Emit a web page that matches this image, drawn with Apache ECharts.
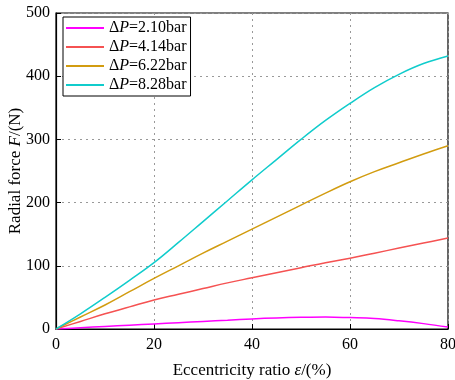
<!DOCTYPE html>
<html>
<head>
<meta charset="utf-8">
<script src="https://cdn.jsdelivr.net/npm/echarts@6/dist/echarts.min.js"></script>
<style>
  html, body { margin: 0; padding: 0; background: #fff; }
  #chart { width: 455px; height: 380px; }
</style>
</head>
<body>
<div id="chart"></div>
<script>
// Eccentricity ratio (%) sample points
const eccentricity = [0, 5, 10, 15, 20, 25, 30, 35, 40, 45, 50, 55, 60, 65, 70, 75, 80];

// Pressure drop of each curve (bar)
const pressures = ['2.10', '4.14', '6.22', '8.28'];

// Radial force (N) for each pressure drop
const force210 = [0, 2, 4, 6, 8, 10, 12, 14, 16, 17.5, 18.5, 19, 18, 16.5, 13, 8.5, 3];
const force414 = [0, 12, 24, 35, 46, 55, 64, 73, 81, 89, 97, 105, 112, 120, 128, 136, 144];
const force622 = [0, 19, 38, 59, 80, 100, 120, 139, 158, 177, 196, 215, 233, 249, 263, 277, 290];
const force828 = [0, 24, 50, 77, 105, 137, 170, 203, 236, 268, 300, 330, 357, 382, 403, 420, 432];

const seriesValues = [force210, force414, force622, force828];
const colors = ['#ff00ff', '#f55252', '#d29c10', '#10cccc'];

const xTicks = [0, 20, 40, 60, 80];
const yTicks = [0, 100, 200, 300, 400, 500];

const serif = '"Liberation Serif", "Times New Roman", serif';

const chart = echarts.init(document.getElementById('chart'), null, { renderer: 'canvas' });

const series = pressures.map((p, i) => ({
  name: p,
  type: 'line',
  smooth: 0.4,
  symbol: 'none',
  data: eccentricity.map((x, j) => [x, seriesValues[i][j]]),
  lineStyle: { color: colors[i], width: 1.5 },
  itemStyle: { color: colors[i] },
  z: 3 + i
}));

chart.setOption({
  animation: false,
  backgroundColor: '#fff',
  textStyle: { fontFamily: serif },
  grid: {
    left: 56, right: 7, top: 13, bottom: 51,
    outerBoundsMode: 'none',
    containLabel: false,
    show: true, borderColor: '#000', borderWidth: 1.2, backgroundColor: 'transparent'
  },
  legend: {
    left: 63, top: 17,
    orient: 'vertical',
    itemWidth: 38, itemHeight: 10, itemGap: 3,
    padding: [3, 4, 3, 3],
    borderColor: '#000', borderWidth: 1, backgroundColor: '#fff',
    icon: 'path://M0,4 L38,4 L38,6 L0,6 Z',
    formatter: name => '{n|Δ}{i|P}{n|=' + name + 'bar}',
    textStyle: {
      rich: {
        n: { fontFamily: serif, fontSize: 16, color: '#000', lineHeight: 18 },
        i: { fontFamily: serif, fontSize: 16, fontStyle: 'italic', color: '#000', lineHeight: 18 }
      }
    },
    data: pressures
  },
  xAxis: {
    type: 'value',
    min: 0, max: 80, interval: 20,
    name: '{n|Eccentricity ratio }{i|ε}{n|/(%)}',
    nameLocation: 'middle', nameGap: 33,
    nameMoveOverlap: false,
    nameTextStyle: {
      rich: {
        n: { fontFamily: serif, fontSize: 17, color: '#000' },
        i: { fontFamily: serif, fontSize: 17, fontStyle: 'italic', color: '#000' }
      }
    },
    axisLine: { show: true, lineStyle: { color: '#000', width: 1.2 } },
    axisTick: { show: true, inside: true, length: 5, lineStyle: { color: '#000' } },
    axisLabel: {
      fontFamily: serif, fontSize: 16, color: '#000', margin: 8,
      formatter: v => xTicks.includes(v) ? String(v) : ''
    },
    splitLine: { show: true, lineStyle: { color: '#999', type: [2, 4], width: 1 } }
  },
  yAxis: {
    type: 'value',
    min: 0, max: 500, interval: 100,
    name: '{n|Radial force }{i|F}{n|/(N)}',
    nameLocation: 'middle', nameGap: 32,
    nameMoveOverlap: false,
    nameTextStyle: {
      rich: {
        n: { fontFamily: serif, fontSize: 17, color: '#000' },
        i: { fontFamily: serif, fontSize: 17, fontStyle: 'italic', color: '#000' }
      }
    },
    axisLine: { show: true, lineStyle: { color: '#000', width: 1.2 } },
    axisTick: { show: true, inside: true, length: 5, lineStyle: { color: '#000' } },
    axisLabel: {
      fontFamily: serif, fontSize: 16, color: '#000', margin: 6,
      formatter: v => yTicks.includes(v) ? String(v) : ''
    },
    splitLine: { show: true, lineStyle: { color: '#999', type: [2, 4], width: 1 } }
  },
  series: series
});
</script>
</body>
</html>
